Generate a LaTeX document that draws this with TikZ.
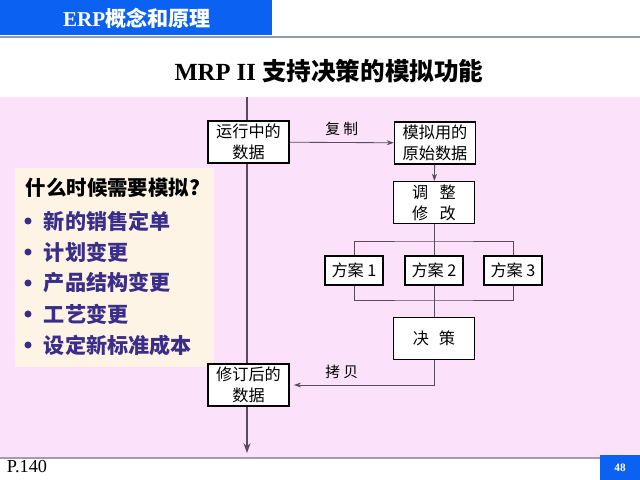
\documentclass[tikz,border=0pt]{standalone}
\usepackage{fontspec}
\setmainfont{Liberation Serif}
\newfontfamily\cjk{Noto Sans CJK SC}
\usetikzlibrary{arrows.meta, positioning}

\definecolor{hdrblue}{HTML}{0B62F2}
\definecolor{slidepink}{HTML}{FBE1FA}
\definecolor{notecream}{HTML}{FEF4E6}
\definecolor{flowline}{HTML}{5B4A5C}
\definecolor{itemblue}{HTML}{3A2E88}
\definecolor{rulegray}{HTML}{8E9BB0}

\begin{document}
\begin{tikzpicture}[x=0.025cm, y=-0.025cm, >={Stealth[length=5pt, width=3.5pt]},
    box/.style={draw=black, fill=white, line width=0.9pt, inner sep=0pt, align=center,
        font=\cjk\fontsize{11.5}{15}\selectfont},
    wide/.style={box, minimum width=2.03cm, minimum height=1.05cm},
    plan/.style={box, minimum width=1.45cm, minimum height=0.73cm},
    link/.style={draw=flowline, line width=0.6pt},
    item/.style={anchor=west, text=itemblue, font=\cjk\bfseries\fontsize{15}{16}\selectfont}]
    \useasboundingbox (0,0) rectangle (640,480);

    % Header and title
    \fill[hdrblue] (0,0) rectangle (272,35);
    \node[text=white, font=\bfseries\fontsize{15}{16}\selectfont] (header) at (137,18)
        {ERP{\cjk 概念和原理}};
    \draw[rulegray, line width=0.8pt] (0,37) -- (640,37);
    \node[font=\bfseries\fontsize{17.5}{20}\selectfont] (title) at (329,71)
        {MRP II {\cjk 支持决策的模拟功能}};

    % Slide area
    \fill[slidepink] (0,97) rectangle (640,458);
    \draw[gray!70!slidepink, line width=0.8pt] (0,458) -- (640,458);
    \fill[notecream] (15,168) rectangle (214,367);

    % When to simulate
    \node[anchor=west, font=\cjk\bfseries\fontsize{14.5}{16}\selectfont] (askhead) at (21,188)
        {什么时候需要模拟?};
    \foreach \i/\t in {1/新的销售定单, 2/计划变更, 3/产品结构变更, 4/工艺变更, 5/设定新标准成本} {
        \node[circle, fill=itemblue, inner sep=0pt, minimum size=5pt] (dot\i) at (28,190+31*\i) {};
        \node[item] (item\i) at (39,190+31*\i) {\t};
    }

    % Data flow
    \coordinate (flowtop) at (247,97);
    \coordinate (flowend) at (247,453);
    \draw[->, flowline, line width=2pt, >={Stealth[length=7pt, width=5pt]}] (flowtop) -- (flowend);

    \node[wide] (running) at (248.5,142) {运行中的\\数据};
    \node[wide] (simraw) at (435,143) {模拟用的\\原始数据};
    \node[wide] (adjust) at (434,202.5) {调\hspace{0.7em}整\\修\hspace{0.7em}改};
    \node[plan] (planA) at (354,270.5) {方案 1};
    \node[plan] (planB) at (434,270.5) {方案 2};
    \node[plan] (planC) at (513,270.5) {方案 3};
    \node[wide] (decide) at (434,338.5) {决\hspace{0.6em}策};
    \node[wide] (revised) at (248.5,385) {修订后的\\数据};

    \coordinate (splitbar) at (434,241);
    \coordinate (mergebar) at (434,300);

    \draw[link, ->] (running) -- node[above=1pt, font=\cjk\fontsize{10.5}{12}\selectfont] (copyA) {复 制} (simraw);
    \draw[link, ->] (simraw) -- (adjust);
    \draw[link] (adjust) -- (planB);
    \draw[link] (planA.north) |- (splitbar) -| (planC.north);
    \draw[link] (planA.south) |- (mergebar) -| (planC.south);
    \draw[link] (planB) -- (decide);
    \draw[link, ->, shorten >=3pt] (decide.south) |- node[pos=0.82, above=1pt, font=\cjk\fontsize{10.5}{12}\selectfont] (copyB) {拷 贝} (revised.east);

    % Footer
    \node[anchor=west, font=\fontsize{13}{14}\selectfont] (pageref) at (2,467) {P.140};
    \fill[hdrblue] (600,455) rectangle (640,480);
    \node[text=white, font=\bfseries\fontsize{8}{9}\selectfont] (pagenum) at (620,468) {48};
\end{tikzpicture}
\end{document}
